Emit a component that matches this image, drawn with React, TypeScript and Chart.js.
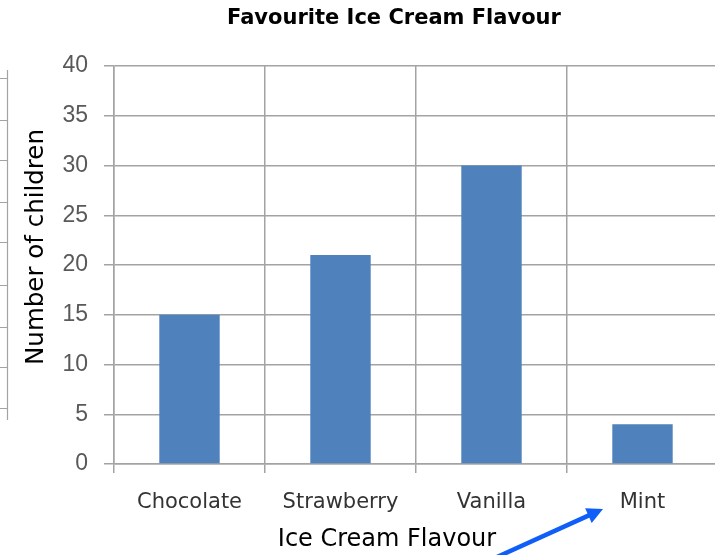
import React, { useEffect, useRef } from "react";
import { Chart, registerables } from "chart.js";

Chart.register(...registerables);

// ---- data ----
const CATEGORIES: string[] = ["Chocolate", "Strawberry", "Vanilla", "Mint"];
const CHILDREN: number[] = [15, 21, 30, 4];
const TITLE = "Favourite Ice Cream Flavour";
const X_TITLE = "Ice Cream Flavour";
const Y_TITLE = "Number of children";
const Y_MIN = 0;
const Y_MAX = 40;
const Y_STEP = 5;

// ---- decoration (cropped neighbour axis at far left, and a pointer arrow) ----
const LEFT_AXIS_TICKS_Y: number[] = [78, 120, 160, 202, 242, 285, 327, 367, 408];

const GRID = "#a3a3a3";
const BAR = "#4f81bd";
const COMIC = "'DejaVu Sans', 'Noto Sans', sans-serif";

const decorPlugin = {
  id: "decor",
  afterDraw(chart: any) {
    const ctx: CanvasRenderingContext2D = chart.ctx;
    const area = chart.chartArea;
    ctx.save();
    ctx.fillStyle = "#000";
    ctx.textAlign = "center";
    ctx.textBaseline = "middle";
    // chart title
    ctx.font = `bold 21px ${COMIC}`;
    ctx.fillText(TITLE, area.left + 280, 19);
    // axis titles
    ctx.font = `24px ${COMIC}`;
    ctx.fillText(X_TITLE, area.left + 273, 540);
    ctx.save();
    ctx.translate(37, area.top + 181);
    ctx.rotate(-Math.PI / 2);
    ctx.font = `24.5px ${COMIC}`;
    ctx.fillText(Y_TITLE, 0, 0);
    ctx.restore();

    // cropped neighbour axis at left edge
    ctx.strokeStyle = GRID;
    ctx.lineWidth = 1.2;
    ctx.beginPath();
    ctx.moveTo(7.5, 70);
    ctx.lineTo(7.5, 420);
    for (const y of LEFT_AXIS_TICKS_Y) {
      ctx.moveTo(0, y + 0.5);
      ctx.lineTo(7.5, y + 0.5);
    }
    ctx.stroke();

    // blue arrow
    const x0 = 497, y0 = 557, x1 = 603, y1 = 509;
    const ang = Math.atan2(y1 - y0, x1 - x0);
    ctx.strokeStyle = "#0f5ef7";
    ctx.fillStyle = "#0f5ef7";
    ctx.lineWidth = 4.5;
    ctx.lineCap = "round";
    ctx.beginPath();
    ctx.moveTo(x0, y0);
    ctx.lineTo(x1 - 10 * Math.cos(ang), y1 - 10 * Math.sin(ang));
    ctx.stroke();
    const hl = 16, hw = 8;
    ctx.beginPath();
    ctx.moveTo(x1, y1);
    ctx.lineTo(x1 - hl * Math.cos(ang) + hw * Math.sin(ang), y1 - hl * Math.sin(ang) - hw * Math.cos(ang));
    ctx.lineTo(x1 - hl * Math.cos(ang) - hw * Math.sin(ang), y1 - hl * Math.sin(ang) + hw * Math.cos(ang));
    ctx.closePath();
    ctx.fill();
    ctx.restore();
  },
};

export default function App() {
  const ref = useRef<HTMLCanvasElement | null>(null);

  useEffect(() => {
    document.body.style.margin = "0";
    document.body.style.overflow = "hidden";
    if (!ref.current) return;
    const chart = new Chart(ref.current, {
      type: "bar",
      data: {
        labels: CATEGORIES,
        datasets: [
          {
            label: "Number of children",
            data: CHILDREN,
            backgroundColor: BAR,
            borderWidth: 0,
            categoryPercentage: 1,
            barPercentage: 0.4,
          },
        ],
      },
      options: {
        animation: false,
        responsive: false,
        devicePixelRatio: window.devicePixelRatio || 1,
        layout: { padding: { left: 0, right: 2, top: 66, bottom: 0 } },
        plugins: {
          legend: { display: false },
          tooltip: { enabled: false },
          title: { display: false },
        },
        scales: {
          x: {
            afterFit: (s: any) => {
              s.height = 91;
            },
            grid: {
              display: true,
              offset: true,
              color: GRID,
              lineWidth: 1.5,
              drawTicks: true,
              tickLength: 9,
            },
            border: { display: true, color: GRID, width: 1.5 },
            ticks: {
              color: "#333",
              font: { family: COMIC, size: 21 },
              padding: 17,
              maxRotation: 0,
              autoSkip: false,
            },
          },
          y: {
            min: Y_MIN,
            max: Y_MAX,
            afterFit: (s: any) => {
              s.width = 114;
            },
            grid: {
              color: GRID,
              lineWidth: 1.5,
              drawTicks: true,
              tickLength: 10,
            },
            border: { display: true, color: GRID, width: 1.5 },
            ticks: {
              stepSize: Y_STEP,
              color: "#595959",
              font: { family: "'Liberation Sans', Arial, sans-serif", size: 23 },
              padding: 16,
            },
          },
        },
      },
      plugins: [decorPlugin],
    });
    return () => chart.destroy();
  }, []);

  return (
    <div style={{ position: "fixed", left: 0, top: 0, width: 715, height: 555, overflow: "hidden", background: "#fff" }}>
      <canvas ref={ref} width={720} height={555} style={{ display: "block", width: 720, height: 555 }} />
    </div>
  );
}
